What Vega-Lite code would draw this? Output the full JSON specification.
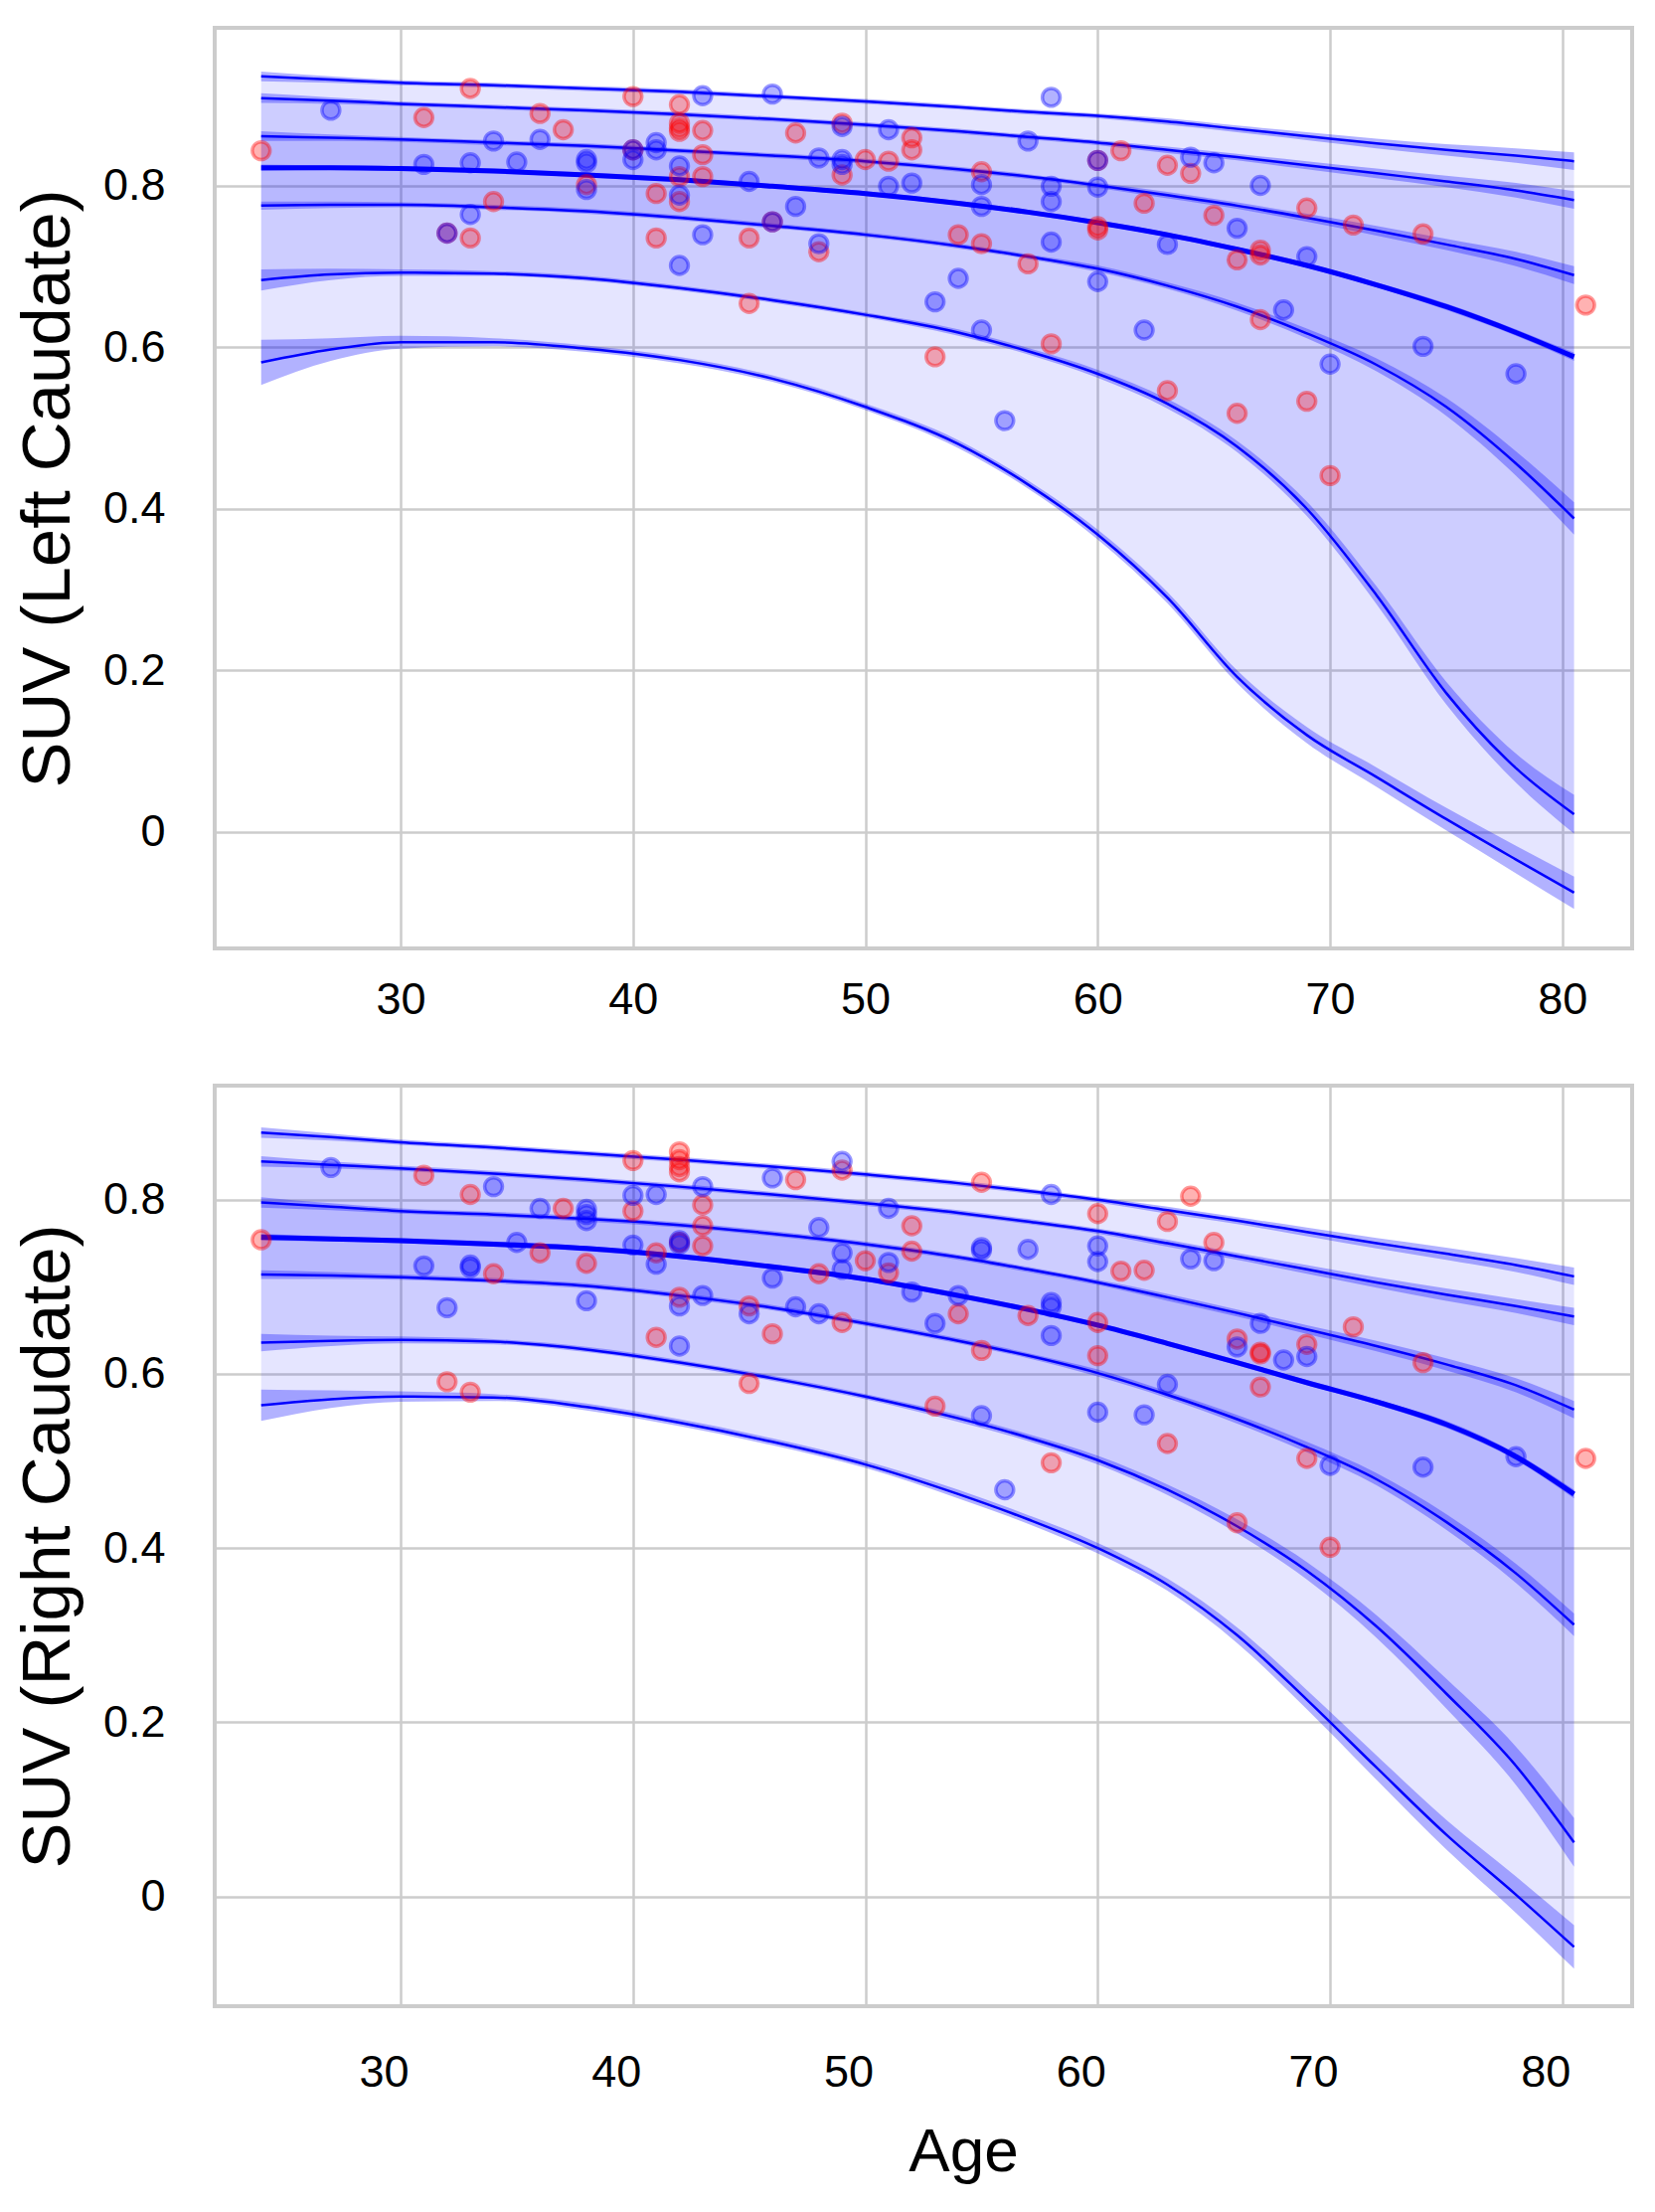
{
  "$schema": "https://vega.github.io/schema/vega-lite/v6.json",
  "description": "Quantile regression curves of caudate SUV against age, left and right",
  "padding": {"left": 12, "top": 26, "right": 20, "bottom": 10},
  "config": {
    "font": "Liberation Sans",
    "view": {"stroke": "#cccccc", "strokeWidth": 4},
    "axis": {
      "grid": true, "gridColor": "#cccccc", "gridWidth": 2.5,
      "domain": false, "ticks": false,
      "labelFontSize": 45, "labelColor": "#000000",
      "titleFontSize": 69, "titleFontWeight": "normal", "titleColor": "#000000"
    }
  },
  "datasets": {
    "cL": [
      {"a":24,"q":"q95","v":0.935,"e":0.006},{"a":27,"q":"q95","v":0.931,"e":0.004},{"a":30,"q":"q95","v":0.927,"e":0.003},{"a":34,"q":"q95","v":0.924,"e":0.003},{"a":38,"q":"q95","v":0.920,"e":0.003},{"a":42,"q":"q95","v":0.916,"e":0.003},{"a":46,"q":"q95","v":0.910,"e":0.003},{"a":50,"q":"q95","v":0.904,"e":0.003},{"a":54,"q":"q95","v":0.897,"e":0.003},{"a":57,"q":"q95","v":0.891,"e":0.003},{"a":60,"q":"q95","v":0.886,"e":0.003},{"a":63,"q":"q95","v":0.879,"e":0.004},{"a":66,"q":"q95","v":0.870,"e":0.004},{"a":69,"q":"q95","v":0.861,"e":0.005},{"a":72,"q":"q95","v":0.852,"e":0.006},{"a":75,"q":"q95","v":0.844,"e":0.007},{"a":78,"q":"q95","v":0.837,"e":0.009},{"a":80.5,"q":"q95","v":0.830,"e":0.011},
      {"a":24,"q":"q90","v":0.908,"e":0.006},{"a":27,"q":"q90","v":0.905,"e":0.004},{"a":30,"q":"q90","v":0.901,"e":0.003},{"a":34,"q":"q90","v":0.897,"e":0.003},{"a":38,"q":"q90","v":0.893,"e":0.003},{"a":42,"q":"q90","v":0.888,"e":0.003},{"a":46,"q":"q90","v":0.882,"e":0.003},{"a":50,"q":"q90","v":0.875,"e":0.003},{"a":54,"q":"q90","v":0.867,"e":0.003},{"a":57,"q":"q90","v":0.860,"e":0.003},{"a":60,"q":"q90","v":0.853,"e":0.003},{"a":63,"q":"q90","v":0.844,"e":0.004},{"a":66,"q":"q90","v":0.835,"e":0.004},{"a":69,"q":"q90","v":0.825,"e":0.005},{"a":72,"q":"q90","v":0.815,"e":0.006},{"a":75,"q":"q90","v":0.805,"e":0.007},{"a":78,"q":"q90","v":0.794,"e":0.009},{"a":80.5,"q":"q90","v":0.782,"e":0.011},
      {"a":24,"q":"q75","v":0.861,"e":0.006},{"a":27,"q":"q75","v":0.859,"e":0.004},{"a":30,"q":"q75","v":0.857,"e":0.003},{"a":34,"q":"q75","v":0.853,"e":0.003},{"a":38,"q":"q75","v":0.849,"e":0.003},{"a":42,"q":"q75","v":0.843,"e":0.003},{"a":46,"q":"q75","v":0.837,"e":0.003},{"a":50,"q":"q75","v":0.830,"e":0.003},{"a":54,"q":"q75","v":0.820,"e":0.003},{"a":57,"q":"q75","v":0.811,"e":0.003},{"a":60,"q":"q75","v":0.800,"e":0.003},{"a":63,"q":"q75","v":0.788,"e":0.004},{"a":66,"q":"q75","v":0.775,"e":0.004},{"a":69,"q":"q75","v":0.760,"e":0.005},{"a":72,"q":"q75","v":0.744,"e":0.006},{"a":75,"q":"q75","v":0.727,"e":0.007},{"a":78,"q":"q75","v":0.709,"e":0.009},{"a":80.5,"q":"q75","v":0.689,"e":0.011},
      {"a":24,"q":"q50","v":0.822,"e":0.004},{"a":27,"q":"q50","v":0.822,"e":0.003},{"a":30,"q":"q50","v":0.821,"e":0.003},{"a":34,"q":"q50","v":0.818,"e":0.003},{"a":38,"q":"q50","v":0.813,"e":0.003},{"a":42,"q":"q50","v":0.807,"e":0.003},{"a":46,"q":"q50","v":0.799,"e":0.003},{"a":50,"q":"q50","v":0.790,"e":0.003},{"a":54,"q":"q50","v":0.778,"e":0.003},{"a":57,"q":"q50","v":0.767,"e":0.003},{"a":60,"q":"q50","v":0.754,"e":0.003},{"a":63,"q":"q50","v":0.739,"e":0.003},{"a":66,"q":"q50","v":0.721,"e":0.003},{"a":69,"q":"q50","v":0.701,"e":0.003},{"a":72,"q":"q50","v":0.677,"e":0.003},{"a":75,"q":"q50","v":0.650,"e":0.004},{"a":78,"q":"q50","v":0.618,"e":0.004},{"a":80.5,"q":"q50","v":0.588,"e":0.005},
      {"a":24,"q":"q25","v":0.775,"e":0.005},{"a":27,"q":"q25","v":0.776,"e":0.004},{"a":30,"q":"q25","v":0.776,"e":0.003},{"a":34,"q":"q25","v":0.773,"e":0.003},{"a":38,"q":"q25","v":0.768,"e":0.003},{"a":42,"q":"q25","v":0.760,"e":0.003},{"a":46,"q":"q25","v":0.750,"e":0.003},{"a":50,"q":"q25","v":0.739,"e":0.003},{"a":54,"q":"q25","v":0.725,"e":0.003},{"a":57,"q":"q25","v":0.712,"e":0.003},{"a":60,"q":"q25","v":0.697,"e":0.004},{"a":63,"q":"q25","v":0.676,"e":0.004},{"a":66,"q":"q25","v":0.650,"e":0.005},{"a":69,"q":"q25","v":0.617,"e":0.006},{"a":72,"q":"q25","v":0.578,"e":0.008},{"a":75,"q":"q25","v":0.526,"e":0.011},{"a":78,"q":"q25","v":0.456,"e":0.015},{"a":80.5,"q":"q25","v":0.388,"e":0.020},
      {"a":24,"q":"q10","v":0.683,"e":0.013},{"a":27,"q":"q10","v":0.690,"e":0.007},{"a":30,"q":"q10","v":0.692,"e":0.004},{"a":34,"q":"q10","v":0.691,"e":0.003},{"a":38,"q":"q10","v":0.685,"e":0.003},{"a":42,"q":"q10","v":0.673,"e":0.003},{"a":46,"q":"q10","v":0.658,"e":0.003},{"a":50,"q":"q10","v":0.640,"e":0.003},{"a":54,"q":"q10","v":0.618,"e":0.004},{"a":57,"q":"q10","v":0.595,"e":0.004},{"a":60,"q":"q10","v":0.567,"e":0.005},{"a":63,"q":"q10","v":0.530,"e":0.006},{"a":66,"q":"q10","v":0.477,"e":0.007},{"a":69,"q":"q10","v":0.400,"e":0.009},{"a":72,"q":"q10","v":0.293,"e":0.011},{"a":75,"q":"q10","v":0.172,"e":0.014},{"a":78,"q":"q10","v":0.079,"e":0.018},{"a":80.5,"q":"q10","v":0.022,"e":0.024},
      {"a":24,"q":"q05","v":0.581,"e":0.028},{"a":27,"q":"q05","v":0.597,"e":0.014},{"a":30,"q":"q05","v":0.606,"e":0.008},{"a":34,"q":"q05","v":0.606,"e":0.005},{"a":38,"q":"q05","v":0.598,"e":0.004},{"a":42,"q":"q05","v":0.584,"e":0.004},{"a":46,"q":"q05","v":0.561,"e":0.004},{"a":50,"q":"q05","v":0.526,"e":0.004},{"a":54,"q":"q05","v":0.480,"e":0.005},{"a":57,"q":"q05","v":0.430,"e":0.005},{"a":60,"q":"q05","v":0.368,"e":0.006},{"a":63,"q":"q05","v":0.290,"e":0.007},{"a":66,"q":"q05","v":0.192,"e":0.008},{"a":69,"q":"q05","v":0.120,"e":0.010},{"a":72,"q":"q05","v":0.068,"e":0.012},{"a":75,"q":"q05","v":0.016,"e":0.014},{"a":78,"q":"q05","v":-0.034,"e":0.017},{"a":80.5,"q":"q05","v":-0.075,"e":0.020}
    ],
    "cR": [
      {"a":24,"q":"q95","v":0.877,"e":0.006},{"a":27,"q":"q95","v":0.872,"e":0.004},{"a":30,"q":"q95","v":0.866,"e":0.003},{"a":34,"q":"q95","v":0.860,"e":0.003},{"a":38,"q":"q95","v":0.853,"e":0.003},{"a":42,"q":"q95","v":0.846,"e":0.003},{"a":46,"q":"q95","v":0.838,"e":0.003},{"a":50,"q":"q95","v":0.829,"e":0.003},{"a":54,"q":"q95","v":0.819,"e":0.003},{"a":57,"q":"q95","v":0.810,"e":0.003},{"a":60,"q":"q95","v":0.800,"e":0.003},{"a":63,"q":"q95","v":0.788,"e":0.004},{"a":66,"q":"q95","v":0.776,"e":0.004},{"a":69,"q":"q95","v":0.763,"e":0.005},{"a":72,"q":"q95","v":0.750,"e":0.006},{"a":75,"q":"q95","v":0.738,"e":0.007},{"a":78,"q":"q95","v":0.725,"e":0.008},{"a":80.5,"q":"q95","v":0.712,"e":0.010},
      {"a":24,"q":"q90","v":0.844,"e":0.006},{"a":27,"q":"q90","v":0.840,"e":0.004},{"a":30,"q":"q90","v":0.836,"e":0.003},{"a":34,"q":"q90","v":0.830,"e":0.003},{"a":38,"q":"q90","v":0.823,"e":0.003},{"a":42,"q":"q90","v":0.815,"e":0.003},{"a":46,"q":"q90","v":0.806,"e":0.003},{"a":50,"q":"q90","v":0.796,"e":0.003},{"a":54,"q":"q90","v":0.785,"e":0.003},{"a":57,"q":"q90","v":0.775,"e":0.003},{"a":60,"q":"q90","v":0.764,"e":0.003},{"a":63,"q":"q90","v":0.750,"e":0.004},{"a":66,"q":"q90","v":0.735,"e":0.004},{"a":69,"q":"q90","v":0.720,"e":0.005},{"a":72,"q":"q90","v":0.705,"e":0.006},{"a":75,"q":"q90","v":0.691,"e":0.007},{"a":78,"q":"q90","v":0.678,"e":0.008},{"a":80.5,"q":"q90","v":0.666,"e":0.010},
      {"a":24,"q":"q75","v":0.797,"e":0.006},{"a":27,"q":"q75","v":0.792,"e":0.004},{"a":30,"q":"q75","v":0.787,"e":0.003},{"a":34,"q":"q75","v":0.783,"e":0.003},{"a":38,"q":"q75","v":0.778,"e":0.003},{"a":42,"q":"q75","v":0.771,"e":0.003},{"a":46,"q":"q75","v":0.761,"e":0.003},{"a":50,"q":"q75","v":0.749,"e":0.003},{"a":54,"q":"q75","v":0.734,"e":0.003},{"a":57,"q":"q75","v":0.720,"e":0.003},{"a":60,"q":"q75","v":0.705,"e":0.003},{"a":63,"q":"q75","v":0.688,"e":0.004},{"a":66,"q":"q75","v":0.670,"e":0.004},{"a":69,"q":"q75","v":0.651,"e":0.005},{"a":72,"q":"q75","v":0.632,"e":0.006},{"a":75,"q":"q75","v":0.611,"e":0.007},{"a":78,"q":"q75","v":0.587,"e":0.008},{"a":80.5,"q":"q75","v":0.559,"e":0.010},
      {"a":24,"q":"q50","v":0.757,"e":0.004},{"a":27,"q":"q50","v":0.755,"e":0.003},{"a":30,"q":"q50","v":0.753,"e":0.003},{"a":34,"q":"q50","v":0.749,"e":0.003},{"a":38,"q":"q50","v":0.744,"e":0.003},{"a":42,"q":"q50","v":0.735,"e":0.003},{"a":46,"q":"q50","v":0.723,"e":0.003},{"a":50,"q":"q50","v":0.709,"e":0.003},{"a":54,"q":"q50","v":0.690,"e":0.003},{"a":57,"q":"q50","v":0.674,"e":0.003},{"a":60,"q":"q50","v":0.656,"e":0.003},{"a":63,"q":"q50","v":0.635,"e":0.003},{"a":66,"q":"q50","v":0.613,"e":0.003},{"a":69,"q":"q50","v":0.590,"e":0.003},{"a":72,"q":"q50","v":0.568,"e":0.003},{"a":75,"q":"q50","v":0.542,"e":0.004},{"a":78,"q":"q50","v":0.505,"e":0.004},{"a":80.5,"q":"q50","v":0.462,"e":0.005},
      {"a":24,"q":"q25","v":0.714,"e":0.005},{"a":27,"q":"q25","v":0.713,"e":0.004},{"a":30,"q":"q25","v":0.711,"e":0.003},{"a":34,"q":"q25","v":0.707,"e":0.003},{"a":38,"q":"q25","v":0.701,"e":0.003},{"a":42,"q":"q25","v":0.690,"e":0.003},{"a":46,"q":"q25","v":0.676,"e":0.003},{"a":50,"q":"q25","v":0.658,"e":0.003},{"a":54,"q":"q25","v":0.638,"e":0.003},{"a":57,"q":"q25","v":0.621,"e":0.003},{"a":60,"q":"q25","v":0.601,"e":0.004},{"a":63,"q":"q25","v":0.576,"e":0.004},{"a":66,"q":"q25","v":0.548,"e":0.005},{"a":69,"q":"q25","v":0.516,"e":0.006},{"a":72,"q":"q25","v":0.479,"e":0.007},{"a":75,"q":"q25","v":0.430,"e":0.009},{"a":78,"q":"q25","v":0.371,"e":0.011},{"a":80.5,"q":"q25","v":0.312,"e":0.013},
      {"a":24,"q":"q10","v":0.636,"e":0.010},{"a":27,"q":"q10","v":0.638,"e":0.006},{"a":30,"q":"q10","v":0.639,"e":0.004},{"a":34,"q":"q10","v":0.637,"e":0.003},{"a":38,"q":"q10","v":0.628,"e":0.003},{"a":42,"q":"q10","v":0.613,"e":0.003},{"a":46,"q":"q10","v":0.595,"e":0.003},{"a":50,"q":"q10","v":0.574,"e":0.003},{"a":54,"q":"q10","v":0.549,"e":0.004},{"a":57,"q":"q10","v":0.527,"e":0.004},{"a":60,"q":"q10","v":0.501,"e":0.005},{"a":63,"q":"q10","v":0.467,"e":0.006},{"a":66,"q":"q10","v":0.425,"e":0.008},{"a":69,"q":"q10","v":0.374,"e":0.010},{"a":72,"q":"q10","v":0.310,"e":0.013},{"a":75,"q":"q10","v":0.233,"e":0.017},{"a":78,"q":"q10","v":0.150,"e":0.022},{"a":80.5,"q":"q10","v":0.062,"e":0.028},
      {"a":24,"q":"q05","v":0.564,"e":0.018},{"a":27,"q":"q05","v":0.571,"e":0.010},{"a":30,"q":"q05","v":0.574,"e":0.006},{"a":34,"q":"q05","v":0.573,"e":0.004},{"a":38,"q":"q05","v":0.562,"e":0.004},{"a":42,"q":"q05","v":0.544,"e":0.004},{"a":46,"q":"q05","v":0.522,"e":0.004},{"a":50,"q":"q05","v":0.496,"e":0.004},{"a":54,"q":"q05","v":0.462,"e":0.005},{"a":57,"q":"q05","v":0.433,"e":0.005},{"a":60,"q":"q05","v":0.400,"e":0.006},{"a":63,"q":"q05","v":0.358,"e":0.007},{"a":66,"q":"q05","v":0.300,"e":0.009},{"a":69,"q":"q05","v":0.226,"e":0.011},{"a":72,"q":"q05","v":0.148,"e":0.014},{"a":75,"q":"q05","v":0.071,"e":0.017},{"a":78,"q":"q05","v":0.002,"e":0.021},{"a":80.5,"q":"q05","v":-0.058,"e":0.025}
    ],
    "pL": [
      {"a":24,"s":0.843,"sex":"F"},{"a":31,"s":0.884,"sex":"F"},{"a":32,"s":0.741,"sex":"F"},{"a":33,"s":0.920,"sex":"F"},{"a":33,"s":0.735,"sex":"F"},{"a":34,"s":0.780,"sex":"F"},{"a":36,"s":0.889,"sex":"F"},{"a":37,"s":0.869,"sex":"F"},{"a":38,"s":0.801,"sex":"F"},{"a":40,"s":0.910,"sex":"F"},{"a":40,"s":0.844,"sex":"F"},{"a":41,"s":0.790,"sex":"F"},{"a":41,"s":0.735,"sex":"F"},{"a":42,"s":0.900,"sex":"F"},{"a":42,"s":0.877,"sex":"F"},{"a":42,"s":0.871,"sex":"F"},{"a":42,"s":0.867,"sex":"F"},{"a":42,"s":0.811,"sex":"F"},{"a":42,"s":0.780,"sex":"F"},{"a":43,"s":0.868,"sex":"F"},{"a":43,"s":0.838,"sex":"F"},{"a":43,"s":0.811,"sex":"F"},{"a":45,"s":0.735,"sex":"F"},{"a":45,"s":0.654,"sex":"F"},{"a":46,"s":0.755,"sex":"F"},{"a":47,"s":0.865,"sex":"F"},{"a":48,"s":0.718,"sex":"F"},{"a":49,"s":0.877,"sex":"F"},{"a":49,"s":0.813,"sex":"F"},{"a":50,"s":0.832,"sex":"F"},{"a":51,"s":0.830,"sex":"F"},{"a":52,"s":0.859,"sex":"F"},{"a":52,"s":0.844,"sex":"F"},{"a":53,"s":0.588,"sex":"F"},{"a":54,"s":0.739,"sex":"F"},{"a":55,"s":0.817,"sex":"F"},{"a":55,"s":0.728,"sex":"F"},{"a":57,"s":0.703,"sex":"F"},{"a":58,"s":0.604,"sex":"F"},{"a":60,"s":0.831,"sex":"F"},{"a":60,"s":0.749,"sex":"F"},{"a":60,"s":0.745,"sex":"F"},{"a":61,"s":0.843,"sex":"F"},{"a":62,"s":0.778,"sex":"F"},{"a":63,"s":0.825,"sex":"F"},{"a":63,"s":0.546,"sex":"F"},{"a":64,"s":0.815,"sex":"F"},{"a":65,"s":0.763,"sex":"F"},{"a":66,"s":0.708,"sex":"F"},{"a":66,"s":0.518,"sex":"F"},{"a":67,"s":0.720,"sex":"F"},{"a":67,"s":0.714,"sex":"F"},{"a":67,"s":0.634,"sex":"F"},{"a":69,"s":0.772,"sex":"F"},{"a":69,"s":0.533,"sex":"F"},{"a":70,"s":0.441,"sex":"F"},{"a":71,"s":0.751,"sex":"F"},{"a":74,"s":0.740,"sex":"F"},{"a":81,"s":0.652,"sex":"F"},
      {"a":27,"s":0.893,"sex":"M"},{"a":31,"s":0.826,"sex":"M"},{"a":32,"s":0.741,"sex":"M"},{"a":33,"s":0.828,"sex":"M"},{"a":33,"s":0.764,"sex":"M"},{"a":34,"s":0.855,"sex":"M"},{"a":35,"s":0.829,"sex":"M"},{"a":36,"s":0.857,"sex":"M"},{"a":38,"s":0.832,"sex":"M"},{"a":38,"s":0.828,"sex":"M"},{"a":38,"s":0.795,"sex":"M"},{"a":40,"s":0.844,"sex":"M"},{"a":40,"s":0.832,"sex":"M"},{"a":41,"s":0.853,"sex":"M"},{"a":41,"s":0.844,"sex":"M"},{"a":42,"s":0.824,"sex":"M"},{"a":42,"s":0.788,"sex":"M"},{"a":42,"s":0.701,"sex":"M"},{"a":43,"s":0.911,"sex":"M"},{"a":43,"s":0.739,"sex":"M"},{"a":45,"s":0.805,"sex":"M"},{"a":46,"s":0.913,"sex":"M"},{"a":46,"s":0.755,"sex":"M"},{"a":47,"s":0.774,"sex":"M"},{"a":48,"s":0.834,"sex":"M"},{"a":48,"s":0.728,"sex":"M"},{"a":49,"s":0.873,"sex":"M"},{"a":49,"s":0.832,"sex":"M"},{"a":49,"s":0.826,"sex":"M"},{"a":51,"s":0.869,"sex":"M"},{"a":51,"s":0.799,"sex":"M"},{"a":52,"s":0.803,"sex":"M"},{"a":53,"s":0.656,"sex":"M"},{"a":54,"s":0.685,"sex":"M"},{"a":55,"s":0.801,"sex":"M"},{"a":55,"s":0.774,"sex":"M"},{"a":55,"s":0.621,"sex":"M"},{"a":56,"s":0.509,"sex":"M"},{"a":57,"s":0.855,"sex":"M"},{"a":58,"s":0.909,"sex":"M"},{"a":58,"s":0.799,"sex":"M"},{"a":58,"s":0.780,"sex":"M"},{"a":58,"s":0.730,"sex":"M"},{"a":60,"s":0.831,"sex":"M"},{"a":60,"s":0.798,"sex":"M"},{"a":60,"s":0.681,"sex":"M"},{"a":62,"s":0.621,"sex":"M"},{"a":63,"s":0.727,"sex":"M"},{"a":64,"s":0.835,"sex":"M"},{"a":65,"s":0.828,"sex":"M"},{"a":66,"s":0.747,"sex":"M"},{"a":67,"s":0.800,"sex":"M"},{"a":68,"s":0.646,"sex":"M"},{"a":69,"s":0.712,"sex":"M"},{"a":70,"s":0.579,"sex":"M"},{"a":74,"s":0.601,"sex":"M"},{"a":78,"s":0.567,"sex":"M"}
    ],
    "pR": [
      {"a":24,"s":0.754,"sex":"F"},{"a":31,"s":0.828,"sex":"F"},{"a":32,"s":0.591,"sex":"F"},{"a":33,"s":0.806,"sex":"F"},{"a":33,"s":0.579,"sex":"F"},{"a":34,"s":0.715,"sex":"F"},{"a":36,"s":0.739,"sex":"F"},{"a":37,"s":0.790,"sex":"F"},{"a":38,"s":0.727,"sex":"F"},{"a":40,"s":0.845,"sex":"F"},{"a":40,"s":0.787,"sex":"F"},{"a":41,"s":0.739,"sex":"F"},{"a":41,"s":0.642,"sex":"F"},{"a":42,"s":0.855,"sex":"F"},{"a":42,"s":0.846,"sex":"F"},{"a":42,"s":0.838,"sex":"F"},{"a":42,"s":0.832,"sex":"F"},{"a":42,"s":0.751,"sex":"F"},{"a":42,"s":0.688,"sex":"F"},{"a":43,"s":0.794,"sex":"F"},{"a":43,"s":0.770,"sex":"F"},{"a":43,"s":0.747,"sex":"F"},{"a":45,"s":0.678,"sex":"F"},{"a":45,"s":0.589,"sex":"F"},{"a":46,"s":0.646,"sex":"F"},{"a":47,"s":0.823,"sex":"F"},{"a":48,"s":0.715,"sex":"F"},{"a":49,"s":0.834,"sex":"F"},{"a":49,"s":0.659,"sex":"F"},{"a":50,"s":0.730,"sex":"F"},{"a":51,"s":0.716,"sex":"F"},{"a":52,"s":0.770,"sex":"F"},{"a":52,"s":0.741,"sex":"F"},{"a":53,"s":0.563,"sex":"F"},{"a":54,"s":0.669,"sex":"F"},{"a":55,"s":0.820,"sex":"F"},{"a":55,"s":0.627,"sex":"F"},{"a":57,"s":0.667,"sex":"F"},{"a":58,"s":0.498,"sex":"F"},{"a":60,"s":0.784,"sex":"F"},{"a":60,"s":0.659,"sex":"F"},{"a":60,"s":0.621,"sex":"F"},{"a":61,"s":0.718,"sex":"F"},{"a":62,"s":0.719,"sex":"F"},{"a":63,"s":0.775,"sex":"F"},{"a":63,"s":0.520,"sex":"F"},{"a":64,"s":0.804,"sex":"F"},{"a":65,"s":0.751,"sex":"F"},{"a":66,"s":0.640,"sex":"F"},{"a":66,"s":0.429,"sex":"F"},{"a":67,"s":0.625,"sex":"F"},{"a":67,"s":0.623,"sex":"F"},{"a":67,"s":0.585,"sex":"F"},{"a":69,"s":0.634,"sex":"F"},{"a":69,"s":0.503,"sex":"F"},{"a":70,"s":0.401,"sex":"F"},{"a":71,"s":0.654,"sex":"F"},{"a":74,"s":0.613,"sex":"F"},{"a":81,"s":0.503,"sex":"F"},
      {"a":27,"s":0.837,"sex":"M"},{"a":31,"s":0.724,"sex":"M"},{"a":32,"s":0.676,"sex":"M"},{"a":33,"s":0.725,"sex":"M"},{"a":33,"s":0.722,"sex":"M"},{"a":34,"s":0.815,"sex":"M"},{"a":35,"s":0.751,"sex":"M"},{"a":36,"s":0.790,"sex":"M"},{"a":38,"s":0.789,"sex":"M"},{"a":38,"s":0.783,"sex":"M"},{"a":38,"s":0.776,"sex":"M"},{"a":38,"s":0.684,"sex":"M"},{"a":40,"s":0.805,"sex":"M"},{"a":40,"s":0.748,"sex":"M"},{"a":41,"s":0.806,"sex":"M"},{"a":41,"s":0.726,"sex":"M"},{"a":42,"s":0.753,"sex":"M"},{"a":42,"s":0.749,"sex":"M"},{"a":42,"s":0.678,"sex":"M"},{"a":42,"s":0.632,"sex":"M"},{"a":43,"s":0.815,"sex":"M"},{"a":43,"s":0.690,"sex":"M"},{"a":45,"s":0.669,"sex":"M"},{"a":46,"s":0.825,"sex":"M"},{"a":46,"s":0.710,"sex":"M"},{"a":47,"s":0.677,"sex":"M"},{"a":48,"s":0.768,"sex":"M"},{"a":48,"s":0.669,"sex":"M"},{"a":49,"s":0.844,"sex":"M"},{"a":49,"s":0.739,"sex":"M"},{"a":49,"s":0.720,"sex":"M"},{"a":51,"s":0.790,"sex":"M"},{"a":51,"s":0.728,"sex":"M"},{"a":52,"s":0.694,"sex":"M"},{"a":53,"s":0.658,"sex":"M"},{"a":54,"s":0.690,"sex":"M"},{"a":55,"s":0.745,"sex":"M"},{"a":55,"s":0.742,"sex":"M"},{"a":55,"s":0.552,"sex":"M"},{"a":56,"s":0.467,"sex":"M"},{"a":57,"s":0.743,"sex":"M"},{"a":58,"s":0.806,"sex":"M"},{"a":58,"s":0.682,"sex":"M"},{"a":58,"s":0.677,"sex":"M"},{"a":58,"s":0.644,"sex":"M"},{"a":60,"s":0.747,"sex":"M"},{"a":60,"s":0.729,"sex":"M"},{"a":60,"s":0.556,"sex":"M"},{"a":62,"s":0.553,"sex":"M"},{"a":63,"s":0.588,"sex":"M"},{"a":64,"s":0.732,"sex":"M"},{"a":65,"s":0.730,"sex":"M"},{"a":66,"s":0.631,"sex":"M"},{"a":67,"s":0.658,"sex":"M"},{"a":68,"s":0.616,"sex":"M"},{"a":69,"s":0.620,"sex":"M"},{"a":70,"s":0.495,"sex":"M"},{"a":74,"s":0.493,"sex":"M"},{"a":78,"s":0.505,"sex":"M"}
    ]
  },
  "vconcat": [
    {
      "width": 1426,
      "height": 926,
      "layer": [
        {
          "data": {"name": "cL"},
          "transform": [{"pivot": "q", "value": "v", "groupby": ["a"]}],
          "layer": [
            {
              "mark": {"type": "area", "color": "#0000ff", "opacity": 0.1, "interpolate": "monotone"},
              "encoding": {
                "x": {"field": "a", "type": "quantitative", "title": null, "scale": {"domain": [22, 83], "nice": false, "zero": false},
                      "axis": {"values": [30, 40, 50, 60, 70, 80], "labelPadding": 29}},
                "y": {"field": "q05", "type": "quantitative", "title": "SUV (Left Caudate)", "scale": {"domain": [-0.144, 0.995], "nice": false, "zero": false},
                      "axis": {"values": [0, 0.2, 0.4, 0.6, 0.8], "format": "~g", "labelPadding": 50, "titlePadding": 20}},
                "y2": {"field": "q95"}
              }
            },
            {
              "mark": {"type": "area", "color": "#0000ff", "opacity": 0.1, "interpolate": "monotone"},
              "encoding": {
                "x": {"field": "a", "type": "quantitative", "title": null, "scale": {"domain": [22, 83], "nice": false, "zero": false}},
                "y": {"field": "q10", "type": "quantitative", "title": "SUV (Left Caudate)", "scale": {"domain": [-0.144, 0.995], "nice": false, "zero": false}},
                "y2": {"field": "q90"}
              }
            },
            {
              "mark": {"type": "area", "color": "#0000ff", "opacity": 0.1, "interpolate": "monotone"},
              "encoding": {
                "x": {"field": "a", "type": "quantitative", "title": null, "scale": {"domain": [22, 83], "nice": false, "zero": false}},
                "y": {"field": "q25", "type": "quantitative", "title": "SUV (Left Caudate)", "scale": {"domain": [-0.144, 0.995], "nice": false, "zero": false}},
                "y2": {"field": "q75"}
              }
            }
          ]
        },
        {
          "data": {"name": "cL"},
          "mark": {"type": "errorband", "interpolate": "monotone", "band": {"color": "#0000ff", "opacity": 0.3}},
          "encoding": {
            "x": {"field": "a", "type": "quantitative", "title": null, "scale": {"domain": [22, 83], "nice": false, "zero": false}},
            "y": {"field": "v", "type": "quantitative", "title": "SUV (Left Caudate)", "scale": {"domain": [-0.144, 0.995], "nice": false, "zero": false}},
            "yError": {"field": "e"},
            "detail": {"field": "q"}
          }
        },
        {
          "data": {"name": "cL"},
          "transform": [{"filter": "datum.q !== 'q50'"}],
          "mark": {"type": "line", "color": "#0000ff", "strokeWidth": 2.5, "interpolate": "monotone"},
          "encoding": {
            "x": {"field": "a", "type": "quantitative", "title": null, "scale": {"domain": [22, 83], "nice": false, "zero": false}},
            "y": {"field": "v", "type": "quantitative", "title": "SUV (Left Caudate)", "scale": {"domain": [-0.144, 0.995], "nice": false, "zero": false}},
            "detail": {"field": "q"}
          }
        },
        {
          "data": {"name": "cL"},
          "transform": [{"filter": "datum.q === 'q50'"}],
          "mark": {"type": "line", "color": "#0000ff", "strokeWidth": 5, "interpolate": "monotone"},
          "encoding": {
            "x": {"field": "a", "type": "quantitative", "title": null, "scale": {"domain": [22, 83], "nice": false, "zero": false}},
            "y": {"field": "v", "type": "quantitative", "title": "SUV (Left Caudate)", "scale": {"domain": [-0.144, 0.995], "nice": false, "zero": false}}
          }
        },
        {
          "data": {"name": "pL"},
          "mark": {"type": "point", "shape": "circle", "filled": true, "size": 320, "fillOpacity": 0.3, "strokeOpacity": 0.4, "strokeWidth": 3.5},
          "encoding": {
            "x": {"field": "a", "type": "quantitative", "title": null, "scale": {"domain": [22, 83], "nice": false, "zero": false}},
            "y": {"field": "s", "type": "quantitative", "title": "SUV (Left Caudate)", "scale": {"domain": [-0.144, 0.995], "nice": false, "zero": false}},
            "fill": {"field": "sex", "type": "nominal", "scale": {"domain": ["F", "M"], "range": ["#ff0000", "#0000ff"]}, "legend": null},
            "stroke": {"field": "sex", "type": "nominal", "scale": {"domain": ["F", "M"], "range": ["#ff0000", "#0000ff"]}, "legend": null}
          }
        }
      ]
    },
    {
      "width": 1426,
      "height": 926,
      "layer": [
        {
          "data": {"name": "cR"},
          "transform": [{"pivot": "q", "value": "v", "groupby": ["a"]}],
          "layer": [
            {
              "mark": {"type": "area", "color": "#0000ff", "opacity": 0.1, "interpolate": "monotone"},
              "encoding": {
                "x": {"field": "a", "type": "quantitative", "title": "Age", "scale": {"domain": [22, 83], "nice": false, "zero": false},
                      "axis": {"values": [30, 40, 50, 60, 70, 80], "labelPadding": 44, "labelOffset": -17, "titlePadding": 27, "titleFontSize": 62, "titleX": 753}},
                "y": {"field": "q05", "type": "quantitative", "title": "SUV (Right Caudate)", "scale": {"domain": [-0.126, 0.931], "nice": false, "zero": false},
                      "axis": {"values": [0, 0.2, 0.4, 0.6, 0.8], "format": "~g", "labelPadding": 50, "titlePadding": 20}},
                "y2": {"field": "q95"}
              }
            },
            {
              "mark": {"type": "area", "color": "#0000ff", "opacity": 0.1, "interpolate": "monotone"},
              "encoding": {
                "x": {"field": "a", "type": "quantitative", "title": "Age", "scale": {"domain": [22, 83], "nice": false, "zero": false}},
                "y": {"field": "q10", "type": "quantitative", "title": "SUV (Right Caudate)", "scale": {"domain": [-0.126, 0.931], "nice": false, "zero": false}},
                "y2": {"field": "q90"}
              }
            },
            {
              "mark": {"type": "area", "color": "#0000ff", "opacity": 0.1, "interpolate": "monotone"},
              "encoding": {
                "x": {"field": "a", "type": "quantitative", "title": "Age", "scale": {"domain": [22, 83], "nice": false, "zero": false}},
                "y": {"field": "q25", "type": "quantitative", "title": "SUV (Right Caudate)", "scale": {"domain": [-0.126, 0.931], "nice": false, "zero": false}},
                "y2": {"field": "q75"}
              }
            }
          ]
        },
        {
          "data": {"name": "cR"},
          "mark": {"type": "errorband", "interpolate": "monotone", "band": {"color": "#0000ff", "opacity": 0.3}},
          "encoding": {
            "x": {"field": "a", "type": "quantitative", "title": "Age", "scale": {"domain": [22, 83], "nice": false, "zero": false}},
            "y": {"field": "v", "type": "quantitative", "title": "SUV (Right Caudate)", "scale": {"domain": [-0.126, 0.931], "nice": false, "zero": false}},
            "yError": {"field": "e"},
            "detail": {"field": "q"}
          }
        },
        {
          "data": {"name": "cR"},
          "transform": [{"filter": "datum.q !== 'q50'"}],
          "mark": {"type": "line", "color": "#0000ff", "strokeWidth": 2.5, "interpolate": "monotone"},
          "encoding": {
            "x": {"field": "a", "type": "quantitative", "title": "Age", "scale": {"domain": [22, 83], "nice": false, "zero": false}},
            "y": {"field": "v", "type": "quantitative", "title": "SUV (Right Caudate)", "scale": {"domain": [-0.126, 0.931], "nice": false, "zero": false}},
            "detail": {"field": "q"}
          }
        },
        {
          "data": {"name": "cR"},
          "transform": [{"filter": "datum.q === 'q50'"}],
          "mark": {"type": "line", "color": "#0000ff", "strokeWidth": 5, "interpolate": "monotone"},
          "encoding": {
            "x": {"field": "a", "type": "quantitative", "title": "Age", "scale": {"domain": [22, 83], "nice": false, "zero": false}},
            "y": {"field": "v", "type": "quantitative", "title": "SUV (Right Caudate)", "scale": {"domain": [-0.126, 0.931], "nice": false, "zero": false}}
          }
        },
        {
          "data": {"name": "pR"},
          "mark": {"type": "point", "shape": "circle", "filled": true, "size": 320, "fillOpacity": 0.3, "strokeOpacity": 0.4, "strokeWidth": 3.5},
          "encoding": {
            "x": {"field": "a", "type": "quantitative", "title": "Age", "scale": {"domain": [22, 83], "nice": false, "zero": false}},
            "y": {"field": "s", "type": "quantitative", "title": "SUV (Right Caudate)", "scale": {"domain": [-0.126, 0.931], "nice": false, "zero": false}},
            "fill": {"field": "sex", "type": "nominal", "scale": {"domain": ["F", "M"], "range": ["#ff0000", "#0000ff"]}, "legend": null},
            "stroke": {"field": "sex", "type": "nominal", "scale": {"domain": ["F", "M"], "range": ["#ff0000", "#0000ff"]}, "legend": null}
          }
        }
      ]
    }
  ],
  "spacing": 60
}
